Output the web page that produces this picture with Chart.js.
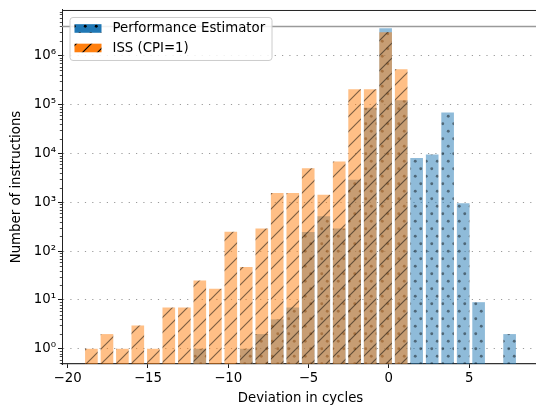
<!DOCTYPE html>
<html>
<head>
<meta charset="utf-8">
<script src="https://cdn.jsdelivr.net/npm/chart.js@4.4.1/dist/chart.umd.min.js"></script>
<style>
  html, body { margin: 0; padding: 0; background: #fff; overflow: hidden; }
  #wrap { position: relative; width: 545px; height: 407px; }
</style>
</head>
<body>
<div id="wrap"><canvas id="histChart"></canvas></div>
<script>
// histogram bins (28 bins between -19 and 8 cycles)
const binCenters = [-18.52, -17.55, -16.59, -15.63, -14.66, -13.70, -12.73, -11.77, -10.80, -9.84,
  -8.88, -7.91, -6.95, -5.98, -5.02, -4.05, -3.09, -2.13, -1.16, -0.20,
  0.77, 1.73, 2.70, 3.66, 4.63, 5.59, 6.55, 7.52]
const estimatorCounts = [0, 0, 0, 0, 0, 0, 0, 1, 0, 0,
  1, 2, 4, 7, 245, 519, 291, 2900, 86000, 3660000,
  122000, 8100, 9500, 69000, 955, 9, 0, 2]
const issCounts = [1, 2, 1, 3, 1, 7, 7, 25, 17, 250,
  47, 290, 1550, 1550, 5000, 1430, 6800, 207000, 207000, 3040000,
  528000, 0, 0, 0, 0, 0, 0, 0]
const seriesNames = ['Performance Estimator', 'ISS (CPI=1)']
const totalLine = 3.96e6
const xTicks = [-20, -15, -10, -5, 0, 5]
const yMajorTicks = [1, 10, 100, 1000, 10000, 100000, 1000000]

const X_MIN = -20.35
const X_MAX = 9.35
const Y_MIN = 0.488
const Y_MAX = 8.65e6
const FONT = 'DejaVu Sans'
const FS = 13.3

Chart.defaults.font.family = FONT
Chart.defaults.font.size = FS
Chart.defaults.color = '#000'

const canvas = document.getElementById('histChart')
const mainCtx = canvas.getContext('2d')

function makePattern(fill, draw, w, h) {
  const c = document.createElement('canvas')
  c.width = w
  c.height = h
  const g = c.getContext('2d')
  g.fillStyle = fill
  g.fillRect(0, 0, w, h)
  draw(g)
  return mainCtx.createPattern(c, 'repeat')
}

function dots(color) {
  return (g) => {
    g.fillStyle = color
    ;[[2.75, 3.75], [8.25, 11.25]].forEach(([x, y]) => {
      g.beginPath()
      g.arc(x, y, 1.45, 0, Math.PI * 2)
      g.fill()
    })
  }
}

function slashes(color) {
  return (g) => {
    g.strokeStyle = color
    g.lineWidth = 1.2
    g.beginPath()
    g.moveTo(-2, 17); g.lineTo(17, -2)
    g.moveTo(-2, 2); g.lineTo(2, -2)
    g.moveTo(13, 17); g.lineTo(17, 13)
    g.stroke()
  }
}

const bluePattern = makePattern('rgba(31,119,180,0.5)', dots('rgba(0,0,0,0.45)'), 11, 15)
const orangePattern = makePattern('rgba(255,127,14,0.5)', slashes('rgba(0,0,0,0.5)'), 15, 15)
const blueLegend = makePattern('#1f77b4', dots('#000'), 11, 15)
const orangeLegend = makePattern('#ff7f0e', slashes('#000'), 15, 15)

function toPoints(counts) {
  return counts.map((v, i) => ({ x: binCenters[i], y: v > 0 ? v : null }))
}

const supers = { 0: '\u2070', 1: '\u00b9', 2: '\u00b2', 3: '\u00b3', 4: '\u2074', 5: '\u2075', 6: '\u2076', 7: '\u2077' }

// frame, minor log ticks, legend box
const decorations = {
  id: 'decorations',
  afterDraw(chart) {
    const ctx = chart.ctx
    const { left, right, top, bottom } = chart.chartArea
    const y = chart.scales.y
    ctx.save()

    // minor ticks on log axis
    ctx.strokeStyle = '#000'
    ctx.lineWidth = 0.7
    ctx.beginPath()
    for (let e = -1; e <= 6; e++) {
      for (let k = 2; k <= 9; k++) {
        const v = k * Math.pow(10, e)
        if (v < Y_MIN || v > Y_MAX) continue
        const py = Math.round(y.getPixelForValue(v)) + 0.5
        ctx.moveTo(left, py)
        ctx.lineTo(left - 2.2, py)
      }
    }
    ctx.stroke()

    // top and right spines
    ctx.strokeStyle = '#222'
    ctx.lineWidth = 1
    ctx.beginPath()
    ctx.moveTo(left, top + 0.5)
    ctx.lineTo(right, top + 0.5)
    ctx.lineTo(right, bottom)
    ctx.stroke()

    // legend
    const lx = left + 7.5, ly = top + 7, lw = 202, lh = 43
    ctx.fillStyle = 'rgba(255,255,255,0.85)'
    ctx.strokeStyle = '#cccccc'
    ctx.lineWidth = 1
    ctx.beginPath()
    ctx.roundRect(lx + 0.5, ly + 0.5, lw, lh, 3)
    ctx.fill()
    ctx.stroke()

    const handles = [blueLegend, orangeLegend]
    seriesNames.forEach((name, i) => {
      const cy = ly + 11.5 + i * 19.5
      ctx.fillStyle = handles[i]
      ctx.fillRect(lx + 5, cy - 4.3, 27, 8.6)
      ctx.fillStyle = '#000'
      ctx.font = FS + 'px "' + FONT + '"'
      ctx.textBaseline = 'middle'
      ctx.textAlign = 'left'
      ctx.fillText(name, lx + 43, cy + 0.5)
    })
    ctx.restore()
  },
}

new Chart(canvas, {
  type: 'bar',
  data: {
    datasets: [
      {
        type: 'bar',
        label: seriesNames[0],
        data: toPoints(estimatorCounts),
        backgroundColor: bluePattern,
        borderWidth: 0,
        grouped: false,
        barPercentage: 0.82,
        categoryPercentage: 1,
        order: 2,
      },
      {
        type: 'bar',
        label: seriesNames[1],
        data: toPoints(issCounts),
        backgroundColor: orangePattern,
        borderWidth: 0,
        grouped: false,
        barPercentage: 0.82,
        categoryPercentage: 1,
        order: 1,
      },
      {
        type: 'line',
        label: 'total',
        data: [{ x: X_MIN, y: totalLine }, { x: X_MAX, y: totalLine }],
        borderColor: '#9a9a9a',
        borderWidth: 1.6,
        pointRadius: 0,
        order: 0,
      },
    ],
  },
  options: {
    responsive: true,
    maintainAspectRatio: false,
    animation: false,
    events: [],
    layout: { padding: { left: 0, top: 8, right: 6, bottom: 0 } },
    plugins: {
      legend: { display: false },
      tooltip: { enabled: false },
    },
    scales: {
      x: {
        type: 'linear',
        min: X_MIN,
        max: X_MAX,
        offset: false,
        afterBuildTicks: (scale) => {
          scale.ticks = xTicks.map((v) => ({ value: v }))
        },
        afterFit: (scale) => {
          scale.height = 43
        },
        ticks: {
          autoSkip: false,
          maxRotation: 0,
          padding: 3,
          callback: (v) => String(v).replace('-', '\u2212'),
        },
        grid: {
          offset: false,
          drawOnChartArea: false,
          drawTicks: true,
          tickLength: 4,
          tickColor: '#000',
          tickWidth: 0.9,
        },
        border: { color: '#333', width: 1.2 },
        title: {
          display: true,
          text: 'Deviation in cycles',
          padding: { top: 0, bottom: 0 },
        },
      },
      y: {
        type: 'logarithmic',
        min: Y_MIN,
        max: Y_MAX,
        afterBuildTicks: (scale) => {
          scale.ticks = yMajorTicks.map((v) => ({ value: v, major: true }))
        },
        afterFit: (scale) => {
          scale.width = 62
        },
        ticks: {
          autoSkip: false,
          padding: 2,
          callback: (v) => '10' + supers[Math.round(Math.log10(v))],
        },
        grid: {
          color: '#9a9a9a',
          lineWidth: 1,
          drawTicks: true,
          tickLength: 4,
          tickColor: '#000',
          tickWidth: 0.9,
        },
        border: { color: '#222', width: 1, dash: [1.2, 6.1] },
        title: {
          display: true,
          text: 'Number of instructions',
          padding: { top: 9, bottom: 0 },
        },
      },
    },
  },
  plugins: [decorations],
})
</script>
</body>
</html>
